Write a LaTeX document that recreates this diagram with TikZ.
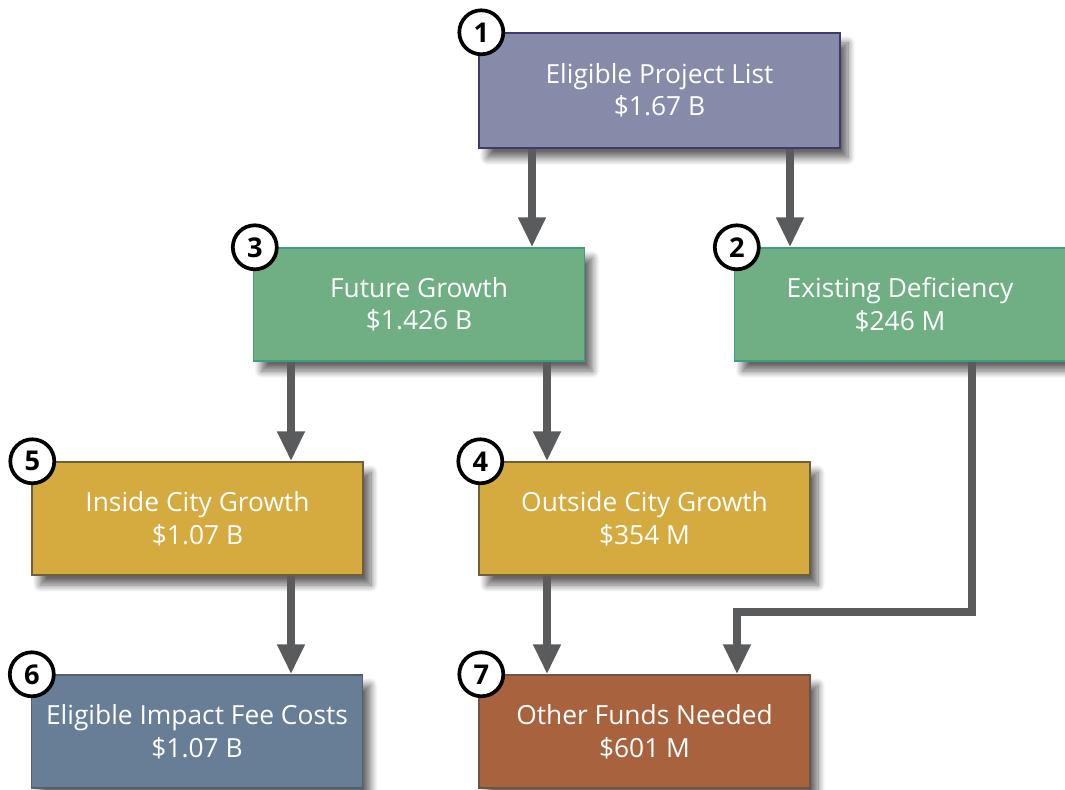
\documentclass[tikz,border=0pt]{standalone}
\usepackage{fontspec}
\setmainfont{Open Sans}
\usetikzlibrary{arrows.meta, shadows.blur}

\definecolor{projfill}{HTML}{868BA9}
\definecolor{projline}{HTML}{3F3A6B}
\definecolor{growfill}{HTML}{70AE84}
\definecolor{growline}{HTML}{3E9C82}
\definecolor{cityfill}{HTML}{D5AA3F}
\definecolor{cityline}{HTML}{6E5F3A}
\definecolor{feefill}{HTML}{687D96}
\definecolor{feeline}{HTML}{55606B}
\definecolor{fundfill}{HTML}{A8623D}
\definecolor{fundline}{HTML}{6A5548}
\definecolor{arrgray}{HTML}{5A5B5D}

\tikzset{
  box/.style={draw, line width=0.8pt, minimum width=6.62cm, minimum height=2.26cm,
    align=center, text=white, font=\fontsize{15}{18.5}\selectfont,
    blur shadow={shadow xshift=0.16cm, shadow yshift=-0.2cm, shadow blur radius=0.14cm,
      shadow blur steps=10, shadow opacity=60}},
  badge/.style={circle, draw=black, fill=white, line width=2.1pt, minimum size=0.88cm,
    inner sep=0pt, font=\fontsize{15.5}{15.5}\selectfont\bfseries},
  arr/.style={draw=arrgray, line width=4.6pt, -{Triangle[width=0.52cm, length=0.6cm]}},
}

\begin{document}
\begin{tikzpicture}
    \clip (0,0) rectangle (21.3,-15.8);
    \useasboundingbox (0,0) rectangle (21.3,-15.8);

    \node[box, fill=projfill, draw=projline, minimum width=7.22cm, minimum height=2.3cm] (eplist) at (13.19,-1.81) {Eligible Project List\\\$1.67 B};
    \node[box, fill=growfill, draw=growline] (future) at (8.38,-6.09) {Future Growth\\\$1.426 B};
    \node[box, fill=growfill, draw=growline] (existing) at (18.0,-6.09) {Existing Deficiency\\\$246 M};
    \node[box, fill=cityfill, draw=cityline] (inside) at (3.95,-10.37) {Inside City Growth\\\$1.07 B};
    \node[box, fill=cityfill, draw=cityline] (outside) at (12.89,-10.37) {Outside City Growth\\\$354 M};
    \node[box, fill=feefill, draw=feeline] (feecost) at (3.94,-14.63) {Eligible Impact Fee Costs\\\$1.07 B};
    \node[box, fill=fundfill, draw=fundline] (funds) at (12.89,-14.63) {Other Funds Needed\\\$601 M};

    \coordinate (bend) at (14.74,-12.24);

    \draw[arr] (eplist.south -| 10.64,0) -- (future.north -| 10.64,0);
    \draw[arr] (eplist.south -| 15.8,0) -- (existing.north -| 15.8,0);
    \draw[arr] (future.south -| 5.82,0) -- (inside.north -| 5.82,0);
    \draw[arr] (future.south -| 10.94,0) -- (outside.north -| 10.94,0);
    \draw[arr] (inside.south -| 5.82,0) -- (feecost.north -| 5.82,0);
    \draw[arr] (outside.south -| 10.94,0) -- (funds.north -| 10.94,0);
    \draw[arr] (existing.south -| 19.44,0) |- (bend) -- (funds.north -| bend);

    \node[badge] (b1) at ([xshift=0.06cm]eplist.north west) {1};
    \node[badge] (b3) at ([xshift=0.04cm]future.north west) {3};
    \node[badge] (b2) at ([xshift=0.06cm]existing.north west) {2};
    \node[badge] (b5) at ([xshift=0.02cm]inside.north west) {5};
    \node[badge] (b4) at ([xshift=0.04cm]outside.north west) {4};
    \node[badge] (b6) at ([xshift=0.02cm]feecost.north west) {6};
    \node[badge] (b7) at ([xshift=0.06cm]funds.north west) {7};
\end{tikzpicture}
\end{document}
